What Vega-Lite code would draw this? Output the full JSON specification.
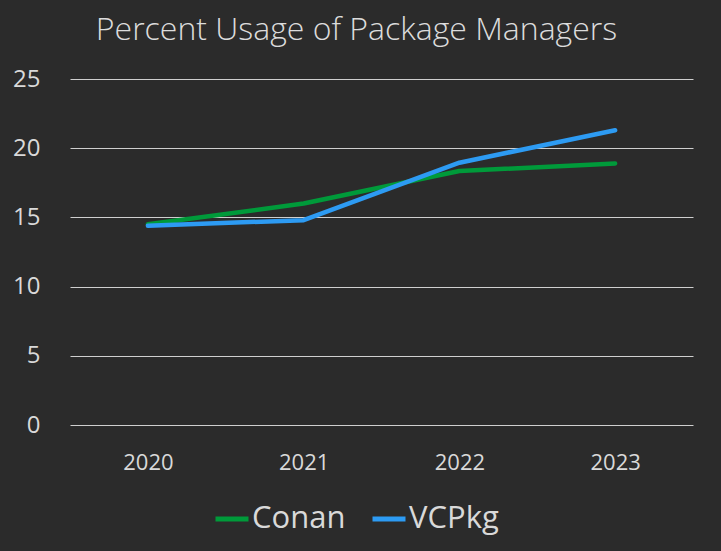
{
  "$schema": "https://vega.github.io/schema/vega-lite/v6.json",
  "autosize": "none",
  "width": 623,
  "height": 346,
  "padding": {"left": 70, "top": 79, "right": 28, "bottom": 126},
  "background": "#2b2b2b",
  "title": {
    "text": "Percent Usage of Package Managers",
    "anchor": "middle",
    "frame": "group",
    "dx": -25,
    "offset": 20,
    "font": "Open Sans",
    "fontWeight": 300,
    "fontSize": 32,
    "color": "#dcdcdc"
  },
  "data": {
    "values": [
      {"year": "2020", "manager": "Conan", "percent": 14.5},
      {"year": "2021", "manager": "Conan", "percent": 16.0},
      {"year": "2022", "manager": "Conan", "percent": 18.35},
      {"year": "2023", "manager": "Conan", "percent": 18.9},
      {"year": "2020", "manager": "VCPkg", "percent": 14.4},
      {"year": "2021", "manager": "VCPkg", "percent": 14.8},
      {"year": "2022", "manager": "VCPkg", "percent": 18.95},
      {"year": "2023", "manager": "VCPkg", "percent": 21.3}
    ]
  },
  "mark": {"type": "line", "strokeWidth": 4.5, "strokeCap": "round", "strokeJoin": "round"},
  "encoding": {
    "x": {
      "field": "year",
      "type": "ordinal",
      "scale": {"type": "point", "padding": 0.5},
      "axis": {
        "title": null,
        "labelAngle": 0,
        "domain": false,
        "ticks": false,
        "labelPadding": 27,
        "labelFontSize": 22,
        "labelFont": "Open Sans",
        "labelColor": "#d9d9d9"
      }
    },
    "y": {
      "field": "percent",
      "type": "quantitative",
      "scale": {"domain": [0, 25]},
      "axis": {
        "title": null,
        "values": [0, 5, 10, 15, 20, 25],
        "domain": false,
        "ticks": false,
        "labelPadding": 30,
        "labelFontSize": 24,
        "labelFont": "Open Sans",
        "labelColor": "#d9d9d9",
        "gridColor": "#cfcfcf",
        "gridWidth": 1
      }
    },
    "color": {
      "field": "manager",
      "type": "nominal",
      "scale": {"domain": ["Conan", "VCPkg"], "range": ["#009a3a", "#2d9bf3"]},
      "legend": {
        "title": null,
        "orient": "none",
        "direction": "horizontal",
        "legendX": 143,
        "legendY": 421,
        "symbolType": "stroke",
        "symbolSize": 1089,
        "symbolStrokeWidth": 5,
        "labelFontSize": 31,
        "labelFont": "Open Sans",
        "labelColor": "#d9d9d9",
        "labelOffset": 1,
        "columnPadding": 16
      }
    }
  },
  "config": {
    "view": {"stroke": null}
  }
}
